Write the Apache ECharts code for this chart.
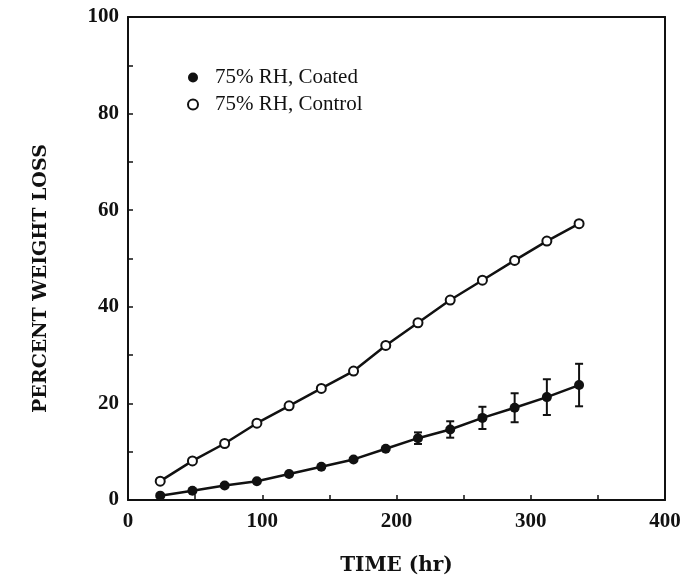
<!DOCTYPE html>
<html>
<head>
<meta charset="utf-8">
<script src="https://cdn.jsdelivr.net/npm/echarts@6/dist/echarts.min.js"></script>
<style>
  html, body { margin: 0; padding: 0; background: #fff; }
  #chart { width: 685px; height: 577px; }
</style>
</head>
<body>
<div id="chart"></div>
<script>
// time points (hr)
const hours = [24, 48, 72, 96, 120, 144, 168, 192, 216, 240, 264, 288, 312, 336];
// 75% RH, Coated
const coated = [0.9, 1.9, 3.0, 3.9, 5.4, 6.9, 8.4, 10.6, 12.8, 14.6, 17.0, 19.1, 21.3, 23.8];
const coatedErr = [0, 0, 0, 0, 0, 0, 0, 0.4, 1.2, 1.7, 2.3, 3.0, 3.7, 4.4];
// 75% RH, Control
const control = [3.9, 8.1, 11.7, 15.9, 19.5, 23.1, 26.7, 32.0, 36.7, 41.4, 45.5, 49.6, 53.6, 57.2];

const xTicks = [0, 100, 200, 300, 400];
const yTicks = [0, 20, 40, 60, 80, 100];

const font = '"Liberation Serif", "DejaVu Serif", serif';
const titleFont = '"DejaVu Serif", "Liberation Serif", serif';
const chart = echarts.init(document.getElementById('chart'));

const pairs = (ys) => hours.map((h, i) => [h, ys[i]]);
const errData = hours.map((h, i) => [h, coated[i] - coatedErr[i], coated[i] + coatedErr[i]]);

chart.setOption({
  animation: false,
  backgroundColor: '#fff',
  grid: { left: 128, right: 20, top: 17, bottom: 77, outerBoundsMode: 'none' },
  legend: {
    orient: 'vertical',
    left: 182,
    top: 62,
    itemWidth: 10,
    itemHeight: 10,
    itemGap: 6,
    icon: 'circle',
    textStyle: { fontFamily: font, fontSize: 21, color: '#111', padding: [0, 0, 0, 12] },
    data: [
      { name: '75% RH, Coated', itemStyle: { color: '#111' } },
      { name: '75% RH, Control', icon: 'circle', itemStyle: { color: '#fff', borderColor: '#111', borderWidth: 2 } }
    ]
  },
  xAxis: [{
    type: 'value', min: 0, max: 400, interval: 100,
    name: 'TIME (hr)', nameLocation: 'middle', nameGap: 56,
    nameTextStyle: { fontFamily: titleFont, fontSize: 20, fontWeight: 'bold', color: '#111' },
    axisLine: { onZero: false, lineStyle: { color: '#111', width: 2 } },
    axisTick: { inside: true, length: 5, lineStyle: { color: '#111', width: 1.5 } },
    minorTick: { show: true, splitNumber: 2, length: 5, lineStyle: { color: '#111', width: 1.5 } },
    axisLabel: {
      fontFamily: font, fontSize: 21, fontWeight: 'bold', color: '#111', margin: 11,
      formatter: (v) => xTicks.includes(v) ? String(v) : ''
    },
    splitLine: { show: false }
  }, {
    type: 'value', position: 'top', min: 0, max: 400,
    axisLine: { show: true, onZero: false, lineStyle: { color: '#111', width: 2 } },
    axisTick: { show: false }, axisLabel: { show: false }, splitLine: { show: false }
  }],
  yAxis: [{
    type: 'value', min: 0, max: 100, interval: 20,
    name: 'PERCENT WEIGHT LOSS', nameLocation: 'middle', nameGap: 77, nameRotate: 90,
    nameTextStyle: { fontFamily: titleFont, fontSize: 19, fontWeight: 'bold', color: '#111', padding: [0, 40, 0, 0] },
    axisLine: { show: true, onZero: false, lineStyle: { color: '#111', width: 2 } },
    axisTick: { inside: true, length: 5, lineStyle: { color: '#111', width: 1.5 } },
    minorTick: { show: true, splitNumber: 2, length: 5, lineStyle: { color: '#111', width: 1.5 } },
    axisLabel: {
      fontFamily: font, fontSize: 21, fontWeight: 'bold', color: '#111', margin: 9,
      formatter: (v) => yTicks.includes(v) ? String(v) : ''
    },
    splitLine: { show: false }
  }, {
    type: 'value', position: 'right', min: 0, max: 100,
    axisLine: { show: true, onZero: false, lineStyle: { color: '#111', width: 2 } },
    axisTick: { show: false }, axisLabel: { show: false }, splitLine: { show: false }
  }],
  series: [
    {
      name: '75% RH, Coated',
      type: 'line',
      data: pairs(coated),
      symbol: 'circle',
      symbolSize: 10,
      itemStyle: { color: '#111' },
      lineStyle: { color: '#111', width: 2.5 },
      z: 3
    },
    {
      name: '75% RH, Control',
      type: 'line',
      data: pairs(control),
      symbol: 'circle',
      symbolSize: 9,
      itemStyle: { color: '#fff', borderColor: '#111', borderWidth: 2 },
      lineStyle: { color: '#111', width: 2.5 },
      z: 3
    },
    {
      name: 'error',
      type: 'custom',
      data: errData,
      z: 4,
      renderItem: function (params, api) {
        const lo = api.value(1), hi = api.value(2);
        if (hi - lo < 1.5) return null;
        const a = api.coord([api.value(0), lo]);
        const b = api.coord([api.value(0), hi]);
        const w = 4;
        const st = { stroke: '#111', lineWidth: 2 };
        return {
          type: 'group',
          children: [
            { type: 'line', shape: { x1: a[0], y1: a[1], x2: b[0], y2: b[1] }, style: st },
            { type: 'line', shape: { x1: a[0] - w, y1: a[1], x2: a[0] + w, y2: a[1] }, style: st },
            { type: 'line', shape: { x1: b[0] - w, y1: b[1], x2: b[0] + w, y2: b[1] }, style: st }
          ]
        };
      }
    }
  ]
});
</script>
</body>
</html>
